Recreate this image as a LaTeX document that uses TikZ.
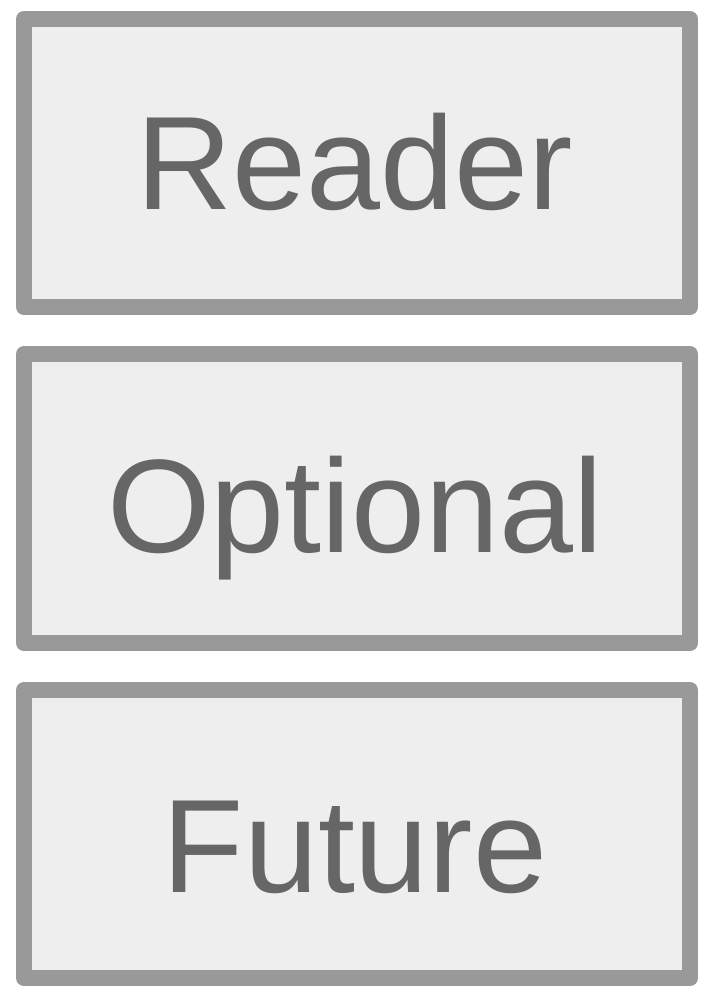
\documentclass[tikz,border=0pt]{standalone}
\usepackage{fontspec}
\setmainfont{Liberation Sans}
\usepackage{tikz}
\definecolor{cEdge}{RGB}{153,153,153}
\definecolor{cFill}{RGB}{238,238,238}
\definecolor{cText}{RGB}{102,102,102}

\begin{document}
\begin{tikzpicture}[x=1pt, y=-1pt, font=\fontsize{133}{140}\selectfont,
    layerbox/.style={draw=cEdge, fill=cFill, line width=16pt, line join=round, rectangle, minimum width=666pt, inner sep=0pt},
    layertext/.style={text=cText, anchor=base, inner sep=0pt}]

    % Fixed page size
    \useasboundingbox (0,0) rectangle (710,1002);

    % Loop over the three stacked boxes and their captions
    \foreach \name/\y/\h/\base/\txt in {
        reader/163/288/46/Reader,
        optional/498.5/289/53.5/Optional,
        future/834/288/58/Future
    } {
        % Box
        \node [layerbox, minimum height=\h pt] (\name) at (357,\y) {};
        % Caption, placed on its baseline
        \node [layertext] (\name Text) at ([xshift=-2pt, yshift=-\base pt]\name.center) {\txt};
    }
\end{tikzpicture}
\end{document}
